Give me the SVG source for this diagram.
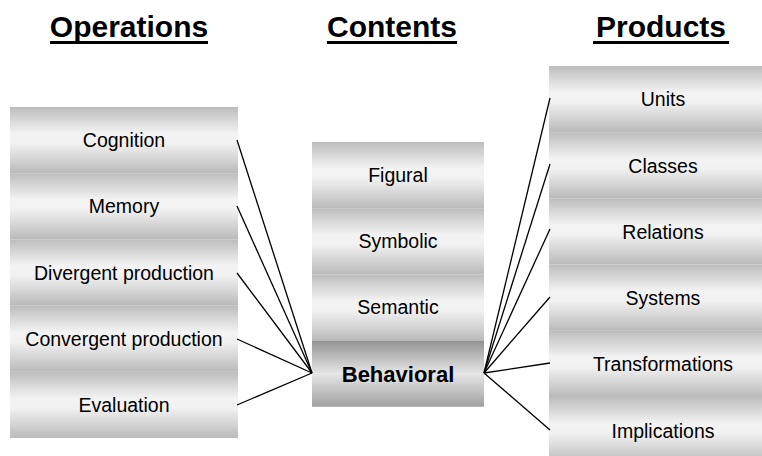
<svg xmlns="http://www.w3.org/2000/svg" width="762" height="456" viewBox="0 0 762 456">
<defs>
<linearGradient id="rowG" x1="0" y1="0" x2="0" y2="1">
<stop offset="0" stop-color="#bdbdbd"/>
<stop offset="0.4" stop-color="#f3f3f3"/>
<stop offset="0.55" stop-color="#f1f1f1"/>
<stop offset="1" stop-color="#bababa"/>
</linearGradient>
<linearGradient id="rowB" x1="0" y1="0" x2="0" y2="1">
<stop offset="0" stop-color="#939393"/>
<stop offset="0.5" stop-color="#e6e6e6"/>
<stop offset="1" stop-color="#a0a0a0"/>
</linearGradient>
</defs>
<style>
.row{fill:url(#rowG)}
.rowb{fill:url(#rowB)}
.t{font-family:"Liberation Sans",Arial,sans-serif;font-size:19.5px;fill:#000;text-anchor:middle}
.tb{font-family:"Liberation Sans",Arial,sans-serif;font-size:22px;font-weight:bold;fill:#000;text-anchor:middle}
.h{font-family:"Liberation Sans",Arial,sans-serif;font-size:30px;font-weight:bold;fill:#000;text-anchor:middle}
.conn line{stroke:#000;stroke-width:1.3}
</style>
<rect width="762" height="456" fill="#fff"/>

<g id="headers">
<text class="h" x="129" y="37">Operations</text>
<rect x="50" y="41" width="158" height="3" fill="#000"/>
<text class="h" x="392" y="37">Contents</text>
<rect x="327" y="41" width="130" height="3" fill="#000"/>
<text class="h" x="661" y="37">Products</text>
<rect x="593" y="41" width="136" height="3" fill="#000"/>
</g>

<g id="operations">
<g id="op-cognition"><rect class="row" x="10" y="107" width="228" height="66.2"/><text class="t" x="124" y="147">Cognition</text></g>
<g id="op-memory"><rect class="row" x="10" y="173.2" width="228" height="66.2"/><text class="t" x="124" y="213">Memory</text></g>
<g id="op-divergent"><rect class="row" x="10" y="239.4" width="228" height="66.2"/><text class="t" x="124" y="280">Divergent production</text></g>
<g id="op-convergent"><rect class="row" x="10" y="305.6" width="228" height="66.2"/><text class="t" x="124" y="346">Convergent production</text></g>
<g id="op-evaluation"><rect class="row" x="10" y="371.8" width="228" height="66.2"/><text class="t" x="124" y="412">Evaluation</text></g>
</g>

<g id="contents">
<g id="ct-figural"><rect class="row" x="312" y="142" width="172" height="66.2"/><text class="t" x="398" y="182">Figural</text></g>
<g id="ct-symbolic"><rect class="row" x="312" y="208.2" width="172" height="66.2"/><text class="t" x="398" y="248">Symbolic</text></g>
<g id="ct-semantic"><rect class="row" x="312" y="274.4" width="172" height="66.2"/><text class="t" x="398" y="314">Semantic</text></g>
<g id="ct-behavioral"><rect class="rowb" x="312" y="340.6" width="172" height="66.2"/><text class="tb" x="398" y="381.5">Behavioral</text></g>
</g>

<g id="products">
<g id="pr-units"><rect class="row" x="549" y="66" width="228" height="66.2"/><text class="t" x="663" y="106">Units</text></g>
<g id="pr-classes"><rect class="row" x="549" y="132.2" width="228" height="66.2"/><text class="t" x="663" y="173">Classes</text></g>
<g id="pr-relations"><rect class="row" x="549" y="198.4" width="228" height="66.2"/><text class="t" x="663" y="239">Relations</text></g>
<g id="pr-systems"><rect class="row" x="549" y="264.6" width="228" height="66.2"/><text class="t" x="663" y="305">Systems</text></g>
<g id="pr-transformations"><rect class="row" x="549" y="330.8" width="228" height="66.2"/><text class="t" x="663" y="371">Transformations</text></g>
<g id="pr-implications"><rect class="row" x="549" y="397" width="228" height="66.2"/><text class="t" x="663" y="438">Implications</text></g>
</g>

<g id="connectors" class="conn">
<line x1="237" y1="140" x2="312" y2="373"/>
<line x1="237" y1="206" x2="312" y2="373"/>
<line x1="237" y1="273" x2="312" y2="373"/>
<line x1="237" y1="339" x2="312" y2="373"/>
<line x1="237" y1="405" x2="312" y2="373"/>
<line x1="484" y1="373" x2="550" y2="98"/>
<line x1="484" y1="373" x2="550" y2="164"/>
<line x1="484" y1="373" x2="550" y2="229"/>
<line x1="484" y1="373" x2="550" y2="297"/>
<line x1="484" y1="373" x2="550" y2="363"/>
<line x1="484" y1="373" x2="550" y2="430"/>
</g>
</svg>
